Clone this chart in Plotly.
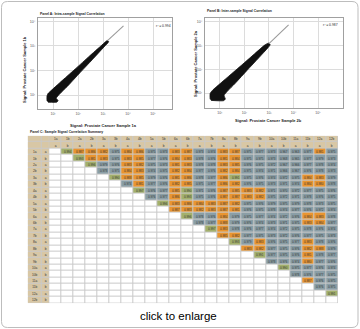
import numpy as np
import plotly.graph_objects as go

W, H = 360, 329

# ---------------- DATA ----------------
samples = ['1a', '1b', '2a', '2b', '3a', '3b', '4a', '4b', '5a', '5b', '6a', '6b',
           '7a', '7b', '8a', '8b', '9a', '9b', '10a', '10b', '11a', '11b', '12a', '12b']
sub_labels = ['a', 'b'] * 12

# upper-triangle correlations: row i holds columns i+1 .. 23
corr_rows = [
    [0.994, 0.987, 0.986, 0.982, 0.975, 0.984, 0.986, 0.975, 0.973, 0.983, 0.987, 0.973, 0.974, 0.983, 0.987, 0.975, 0.977, 0.973, 0.967, 0.963, 0.977, 0.981, 0.975],
    [0.993, 0.981, 0.983, 0.975, 0.983, 0.985, 0.977, 0.976, 0.984, 0.983, 0.978, 0.976, 0.981, 0.984, 0.975, 0.975, 0.973, 0.968, 0.965, 0.977, 0.979, 0.973],
    [0.996, 0.979, 0.976, 0.983, 0.982, 0.975, 0.973, 0.981, 0.983, 0.978, 0.978, 0.983, 0.985, 0.976, 0.975, 0.972, 0.967, 0.966, 0.977, 0.978, 0.974],
    [0.978, 0.975, 0.984, 0.983, 0.974, 0.975, 0.982, 0.984, 0.977, 0.976, 0.982, 0.984, 0.975, 0.974, 0.971, 0.966, 0.967, 0.976, 0.978, 0.973],
    [0.990, 0.988, 0.985, 0.979, 0.976, 0.981, 0.986, 0.978, 0.977, 0.986, 0.991, 0.975, 0.976, 0.974, 0.972, 0.975, 0.984, 0.983, 0.979],
    [0.974, 0.981, 0.977, 0.976, 0.982, 0.985, 0.975, 0.977, 0.986, 0.982, 0.976, 0.975, 0.973, 0.971, 0.974, 0.984, 0.980, 0.978],
    [0.997, 0.976, 0.977, 0.985, 0.990, 0.971, 0.976, 0.987, 0.985, 0.983, 0.982, 0.971, 0.970, 0.972, 0.977, 0.975, 0.976],
    [0.976, 0.977, 0.986, 0.993, 0.975, 0.976, 0.987, 0.987, 0.983, 0.982, 0.975, 0.972, 0.971, 0.978, 0.976, 0.975],
    [0.996, 0.983, 0.986, 0.984, 0.983, 0.987, 0.982, 0.975, 0.976, 0.979, 0.975, 0.979, 0.978, 0.973, 0.975],
    [0.987, 0.983, 0.982, 0.983, 0.987, 0.981, 0.976, 0.975, 0.978, 0.974, 0.977, 0.976, 0.972, 0.974],
    [0.996, 0.978, 0.976, 0.984, 0.979, 0.975, 0.977, 0.974, 0.972, 0.976, 0.984, 0.983, 0.978],
    [0.978, 0.977, 0.988, 0.979, 0.976, 0.974, 0.973, 0.971, 0.975, 0.983, 0.984, 0.977],
    [0.997, 0.983, 0.978, 0.976, 0.977, 0.974, 0.972, 0.975, 0.978, 0.976, 0.974],
    [0.985, 0.982, 0.977, 0.975, 0.973, 0.972, 0.976, 0.977, 0.975, 0.973],
    [0.993, 0.979, 0.983, 0.976, 0.975, 0.977, 0.983, 0.978, 0.976],
    [0.983, 0.982, 0.977, 0.975, 0.976, 0.982, 0.988, 0.979],
    [0.991, 0.977, 0.975, 0.976, 0.981, 0.978, 0.977],
    [0.978, 0.976, 0.974, 0.980, 0.977, 0.976],
    [0.990, 0.975, 0.977, 0.976, 0.974],
    [0.978, 0.976, 0.977, 0.975],
    [0.987, 0.976, 0.975],
    [0.976, 0.975],
    [0.991],
    [],
]

# scatter clouds: envelope of the dense band (log10 units) and the sparse tail
a_band_logx = [0.76, 0.76, 0.80, 0.87, 1.39, 1.915, 2.435, 2.96, 3.175, 3.225, 3.04, 2.565, 2.085, 1.61, 1.13, 1.20, 1.15, 0.80]
a_band_logy = [0.76, 0.96, 1.06, 1.13, 1.61, 2.085, 2.565, 3.04, 3.225, 3.175, 2.96, 2.435, 1.915, 1.39, 0.87, 0.78, 0.71, 0.71]
a_tail_logx = [3.18, 3.50, 3.82]
a_tail_logy = [3.22, 3.52, 3.82]
a_r2 = 'r² = 0.994'

b_band_logx = [0.60, 0.60, 0.70, 0.83, 1.36, 1.89, 2.415, 2.84, 2.98, 3.05, 2.96, 2.585, 2.11, 1.64, 1.17, 1.22, 1.15, 0.64]
b_band_logy = [0.74, 0.98, 1.12, 1.24, 1.71, 2.18, 2.655, 3.03, 3.10, 3.04, 2.91, 2.485, 1.96, 1.43, 0.90, 0.75, 0.68, 0.69]
b_tail_logx = [3.00, 3.40, 3.80]
b_tail_logy = [3.08, 3.47, 3.87]
b_r2 = 'r² = 0.987'

tick_vals = [10, 100, 1000, 10000, 100000]
tick_text = ['10¹', '10²', '10³', '10⁴', '10⁵']

# ---------------- HELPERS ----------------
def fx(p):
    return p / W

def fy(p):
    return 1 - p / H

GREEN, ORANGE, BLUE, TAN = '#a3b06c', '#e99530', '#8a9ea6', '#d8c7a5'
F = 'Liberation Sans'

fig = go.Figure()

# ---------------- PANELS A & B ----------------
def add_scatter(bx, by, tx, ty, xa, ya):
    fig.add_trace(go.Scatter(x=np.power(10.0, bx), y=np.power(10.0, by), mode='lines',
                             fill='toself', fillcolor='#111111',
                             line=dict(color='#111111', width=0.8, shape='spline', smoothing=0.6),
                             xaxis=xa, yaxis=ya, hoverinfo='skip', showlegend=False))
    fig.add_trace(go.Scatter(x=np.power(10.0, tx), y=np.power(10.0, ty), mode='lines',
                             line=dict(color='#9a9a9a', width=1.1),
                             xaxis=xa, yaxis=ya, hoverinfo='skip', showlegend=False))

add_scatter(a_band_logx, a_band_logy, a_tail_logx, a_tail_logy, 'x', 'y')
add_scatter(b_band_logx, b_band_logy, b_tail_logx, b_tail_logy, 'x2', 'y2')

axis_common = dict(type='log', tickvals=tick_vals, ticktext=tick_text, showline=True, mirror=True,
                   linecolor='#a0a0a0', linewidth=1, gridcolor='#dcdcdc', gridwidth=1,
                   ticks='', tickfont=dict(size=3.6, color='#555', family=F),
                   zeroline=False, fixedrange=True, ticklabelstandoff=1)

fig.update_layout(
    xaxis=dict(domain=[fx(38), fx(172)], anchor='y', range=[0.4, 5.76], **axis_common),
    yaxis=dict(domain=[fy(109), fy(18)], anchor='x', range=[0.43, 4.14], **axis_common),
    xaxis2=dict(domain=[fx(205), fx(343)], anchor='y2', range=[0.39, 6.02], **axis_common),
    yaxis2=dict(domain=[fy(108), fy(18)], anchor='x2', range=[0.37, 4.16], **axis_common),
)

# ---------------- PANEL C TABLE ----------------
TX0, TX1, TY0, TY1 = 27.7, 338.0, 135.7, 303.3
tw, th = TX1 - TX0, TY1 - TY0
L1, L2 = 14.0, 7.6
n = len(samples)
cw = (tw - L1 - L2) / n
rh = th / (n + 2)

z, txt = [], []
for i in range(n):
    zr, tr = [], []
    for j in range(n):
        if j <= i:
            zr.append(0); tr.append('')
        else:
            v = corr_rows[i][j - i - 1]
            zr.append(3 if v >= 0.990 else (2 if v >= 0.980 else 1))
            tr.append(f'{v:.3f}')
    z.append(zr); txt.append(tr)

cs = [[0, 'white'], [0.25, 'white'], [0.25, BLUE], [0.5, BLUE],
      [0.5, ORANGE], [0.75, ORANGE], [0.75, GREEN], [1, GREEN]]
fig.add_trace(go.Heatmap(z=z, text=txt, texttemplate='%{text}',
                         textfont=dict(size=3, color='#333', family=F),
                         x0=L1 + L2 + cw / 2, dx=cw, y0=2 * rh + rh / 2, dy=rh,
                         zmin=-0.5, zmax=3.5, colorscale=cs, showscale=False,
                         xgap=1, ygap=1, xaxis='x3', yaxis='y3', hoverinfo='skip'))

tan_cs = [[0, TAN], [1, TAN]]
fig.add_trace(go.Heatmap(z=[[0] * n, [0] * n], text=[samples, sub_labels], texttemplate='%{text}',
                         textfont=dict(size=3.2, color='#333', family=F),
                         x0=L1 + L2 + cw / 2, dx=cw, y0=rh / 2, dy=rh,
                         colorscale=tan_cs, showscale=False, xgap=1, ygap=1,
                         xaxis='x3', yaxis='y3', hoverinfo='skip'))
fig.add_trace(go.Heatmap(z=[[0]] * (n + 2), text=[[' '], [' ']] + [[s] for s in samples], texttemplate='%{text}',
                         textfont=dict(size=3.2, color='#333', family=F),
                         x0=L1 / 2, dx=L1, y0=rh / 2, dy=rh,
                         colorscale=tan_cs, showscale=False, xgap=1, ygap=1,
                         xaxis='x3', yaxis='y3', hoverinfo='skip'))
fig.add_trace(go.Heatmap(z=[[0]] * (n + 2), text=[[' '], [' ']] + [[s] for s in sub_labels], texttemplate='%{text}',
                         textfont=dict(size=3.2, color='#333', family=F),
                         x0=L1 + L2 / 2, dx=L2, y0=rh / 2, dy=rh,
                         colorscale=tan_cs, showscale=False, xgap=1, ygap=1,
                         xaxis='x3', yaxis='y3', hoverinfo='skip'))

fig.update_layout(
    xaxis3=dict(domain=[fx(TX0), fx(TX1)], anchor='y3', range=[0, tw], visible=False, fixedrange=True),
    yaxis3=dict(domain=[fy(TY1), fy(TY0)], anchor='x3', range=[th, 0], visible=False, fixedrange=True),
)

shapes = [dict(type='rect', xref='x3', yref='y3', x0=0, x1=tw, y0=0, y1=th,
               fillcolor='#c9c9c9', line=dict(width=0), layer='below')]
# rounded outer border
l, r, t, b, rad = 1.5, 358.0, 1.5, 327.5, 6
path = (f'M {fx(l + rad)},{fy(t)} L {fx(r - rad)},{fy(t)} Q {fx(r)},{fy(t)} {fx(r)},{fy(t + rad)} '
        f'L {fx(r)},{fy(b - rad)} Q {fx(r)},{fy(b)} {fx(r - rad)},{fy(b)} '
        f'L {fx(l + rad)},{fy(b)} Q {fx(l)},{fy(b)} {fx(l)},{fy(b - rad)} '
        f'L {fx(l)},{fy(t + rad)} Q {fx(l)},{fy(t)} {fx(l + rad)},{fy(t)} Z')
shapes.append(dict(type='path', xref='paper', yref='paper', path=path,
                   line=dict(color='#bdbdbd', width=1), fillcolor='rgba(0,0,0,0)'))

ann = []
def A(text, x, y, size, bold=False, angle=0, xanchor='center', color='#222'):
    ann.append(dict(text=f'<b>{text}</b>' if bold else text, x=fx(x), y=fy(y), xref='paper', yref='paper',
                    showarrow=False, xanchor=xanchor, yanchor='middle', textangle=angle,
                    font=dict(size=size, family=F, color=color)))

A('Panel A: Intra-sample Signal Correlation', 38, 14, 3.4, True, xanchor='left')
A('Panel B: Inter-sample Signal Correlation', 205, 11, 3.4, True, xanchor='left')
A('Panel C: Sample Signal Correlation Summary', 27.7, 132, 3.4, True, xanchor='left')
A('Signal: Prostate Cancer Sample 1b', 25, 70, 4, True, angle=-90)
A('Signal: Prostate Cancer Sample 2a', 195, 64, 4, True, angle=-90)
A('Signal: Prostate Cancer Sample 1a', 104, 125, 4, True)
A('Signal: Prostate Cancer Sample 2b', 268, 120, 4, True)
A(a_r2, 163, 26, 3.4)
A(b_r2, 330, 25, 3.4)
A('click to enlarge', 178, 316, 11.5, color='#000')

fig.update_layout(width=W, height=H, margin=dict(l=0, r=0, t=0, b=0),
                  paper_bgcolor='white', plot_bgcolor='white', showlegend=False,
                  shapes=shapes, annotations=ann)

fig.write_html('out.html')
